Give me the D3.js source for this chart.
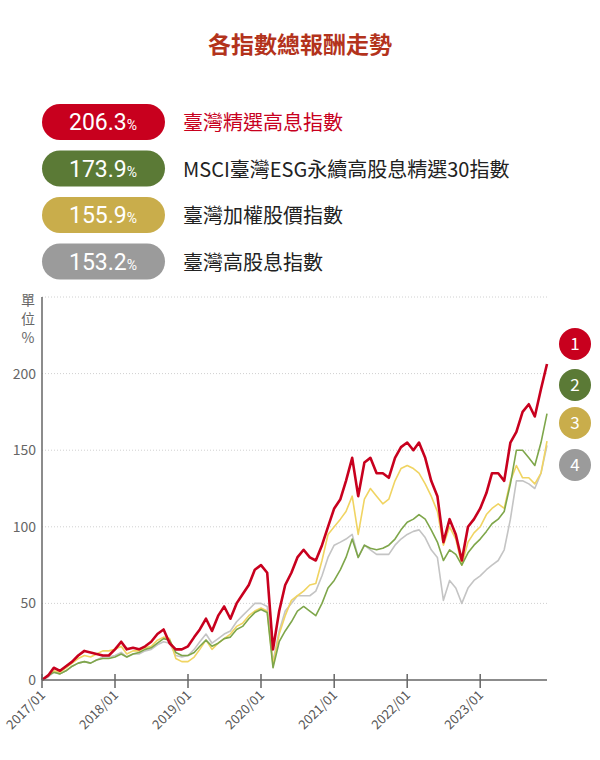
<!DOCTYPE html>
<html><head><meta charset="utf-8">
<script src="https://cdn.jsdelivr.net/npm/d3@7"></script>
<style>
body{margin:0;background:#fff;font-family:"Noto Sans CJK TC","Noto Sans",sans-serif;}
</style></head>
<body>
<script>
// monthly values 2017/01 .. 2023/12 (cumulative total return, %)
const s1 = [0,3,8,6,9,12,16,19,18,17,16,16,
  20,25,20,21,20,22,25,30,33,24,20,20,
  22,28,33,40,32,42,48,40,50,56,62,72,
  75,70,20,45,62,70,80,85,80,78,88,100,
  112,118,130,145,120,142,145,135,135,132,145,152,
  155,150,155,145,130,120,90,105,95,78,100,105,
  112,122,135,135,130,155,162,175,180,172,190,206.3];
const s2 = [0,3,5,4,6,9,11,12,11,13,14,14,
  15,17,15,17,18,20,21,24,27,26,18,16,
  16,18,22,26,22,24,27,28,33,35,40,44,
  46,44,8,25,32,38,45,48,45,42,50,60,
  65,72,80,92,80,88,86,85,86,88,92,98,
  103,105,108,105,98,90,78,85,82,75,83,88,
  92,97,102,105,110,128,150,150,145,140,155,173.9];
const s3 = [0,3,6,5,8,11,14,16,15,17,19,19,
  20,22,17,19,19,21,22,26,28,27,14,12,
  12,15,20,26,20,24,27,30,35,37,42,45,
  47,45,10,30,42,52,55,58,62,63,78,95,
  100,105,110,120,95,118,125,120,115,118,130,138,
  140,138,135,128,120,110,88,100,92,75,90,96,
  100,108,112,115,112,130,140,132,132,128,135,155.9];
const s4 = [0,2,5,4,6,9,11,12,11,13,15,15,
  16,18,15,17,17,19,20,23,25,24,16,15,
  16,20,25,30,24,27,30,32,38,42,46,50,
  50,48,12,32,45,50,55,55,55,58,68,80,
  88,90,92,95,80,88,85,82,82,82,88,92,
  95,97,98,93,85,80,52,65,60,50,60,65,
  68,72,75,78,85,105,130,130,128,125,135,153.2];
const names = ["臺灣精選高息指數","MSCI臺灣ESG永續高股息精選30指數","臺灣加權股價指數","臺灣高股息指數"];
const finals = ["206.3","173.9","155.9","153.2"];
const yTicks = [0,50,100,150,200,250];
const xYears = ["2017/01","2018/01","2019/01","2020/01","2021/01","2022/01","2023/01"];

const badgeColors = ["#c8001e","#5b7a36","#c9ad4b","#9b9b9b"];
const lineColors = ["#c8001e","#7ea64a","#f0d462","#c4c4c4"];
const series = [s1,s2,s3,s4];

const svg = d3.select("body").append("svg").attr("width",600).attr("height",760);

svg.append("text").attr("x",300).attr("y",53).attr("text-anchor","middle")
  .attr("font-size",23).attr("font-weight","bold").attr("fill","#b3331c").text("各指數總報酬走勢");

// legend
names.forEach((n,i)=>{
  const cy = 122 + i*46.5;
  svg.append("rect").attr("x",42).attr("y",cy-18).attr("width",123).attr("height",36)
    .attr("rx",18).attr("fill",badgeColors[i]);
  const t = svg.append("text").attr("x",103).attr("y",cy+8).attr("text-anchor","middle")
    .attr("fill","#fff").attr("font-size",23).attr("font-family","Roboto, 'Noto Sans', sans-serif");
  t.append("tspan").text(finals[i]);
  t.append("tspan").attr("font-size",14).text("%");
  svg.append("text").attr("x",183).attr("y",cy+8).attr("font-size",20)
    .attr("fill", i===0 ? "#c8001e" : "#222").text(n);
});

const x0 = 42, x1 = 547, yTop = 297, yBot = 680;
const parse = d3.timeParse("%Y/%m");
const dates = d3.range(84).map(i=>new Date(2017, i, 1));
const x = d3.scaleTime().domain([new Date(2017,0,1), new Date(2023,11,1)]).range([x0,x1]);
const y = d3.scaleLinear().domain([0,250]).range([yBot,yTop]);

// grid
svg.selectAll(".grid").data(yTicks.slice(1)).enter().append("line")
  .attr("x1",x0).attr("x2",x1).attr("y1",d=>y(d)).attr("y2",d=>y(d))
  .attr("stroke","#d0d0d0").attr("stroke-dasharray","1,2");

svg.selectAll(".ylab").data(yTicks.slice(0,5)).enter().append("text")
  .attr("x",36).attr("y",d=>y(d)+5).attr("text-anchor","end").attr("font-size",14)
  .attr("fill","#666").text(d=>d);

["單","位","%"].forEach((c,i)=>svg.append("text").attr("x",28).attr("y",305+i*19)
  .attr("text-anchor","middle").attr("font-size",14).attr("fill","#666").text(c));

svg.append("line").attr("x1",x0).attr("x2",x0).attr("y1",yTop).attr("y2",yBot)
  .attr("stroke","#666").attr("stroke-width",1.5);

// lines (draw back to front)
const line = d3.line().x((d,i)=>x(dates[i])).y(d=>y(d));
[3,2,1,0].forEach(i=>{
  svg.append("path").datum(series[i]).attr("d",line).attr("fill","none")
    .attr("stroke",lineColors[i]).attr("stroke-width", i===0 ? 2.6 : 1.6)
    .attr("stroke-linejoin","round");
});

// x axis
svg.append("line").attr("x1",x0).attr("x2",x1).attr("y1",yBot).attr("y2",yBot)
  .attr("stroke","#666").attr("stroke-width",1.5);
xYears.forEach(s=>{
  const xx = x(parse(s));
  svg.append("line").attr("x1",xx).attr("x2",xx).attr("y1",yBot-6).attr("y2",yBot+8)
    .attr("stroke","#666").attr("stroke-width",1.5);
  svg.append("text").attr("transform",`translate(${xx+4},${yBot+16}) rotate(-45)`)
    .attr("text-anchor","end").attr("font-size",13).attr("fill","#555").text(s);
});

// end badges
[344,385,423,465].forEach((cy,i)=>{
  svg.append("circle").attr("cx",575).attr("cy",cy).attr("r",16).attr("fill",badgeColors[i]);
  svg.append("text").attr("x",575).attr("y",cy+6).attr("text-anchor","middle")
    .attr("font-size",17).attr("fill","#fff").text(i+1);
});
</script>
</body></html>
